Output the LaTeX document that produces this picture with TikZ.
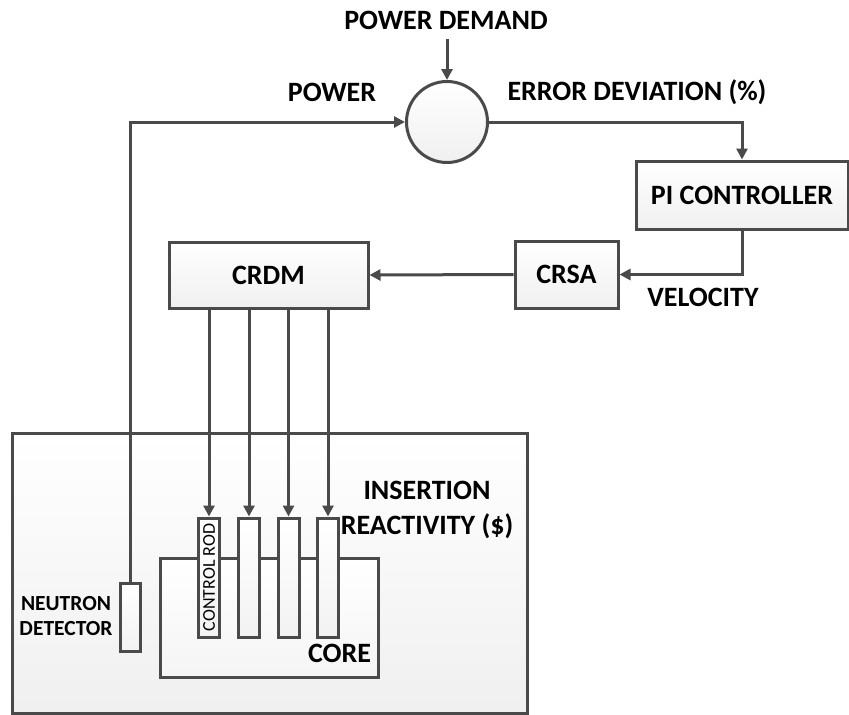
\documentclass[tikz,border=0pt]{standalone}
\usepackage{fontspec}
\setmainfont{Carlito}
\usetikzlibrary{arrows.meta}
\definecolor{edge}{HTML}{4A4A4A}

\begin{document}
\begin{tikzpicture}[x=1pt, y=-1pt,
  line width=3pt, draw=edge,
  >={Triangle[length=11pt,width=11pt]},
  blk/.style = {draw=edge, line width=3pt, rectangle, top color=white, bottom color=gray!12, inner sep=0pt, font=\bfseries\fontsize{28}{32}\selectfont},
  rod/.style = {draw=edge, line width=3pt, rectangle, top color=white, bottom color=gray!10, minimum width=21pt, minimum height=119pt, inner sep=0pt},
  lbl/.style = {font=\bfseries\fontsize{28}{35}\selectfont, inner sep=0pt, align=center}]
\useasboundingbox (0,0) rectangle (849,715);
% reactor vessel and core
\node[blk, minimum width=515pt, minimum height=280pt] (vessel) at (269.5,573) {};
\node[blk, minimum width=218pt, minimum height=119pt, bottom color=gray!8] (core) at (269,617.5) {};
\node[rod] (r1) at (209,577.5) {};
\node[rod] (r2) at (249,577.5) {};
\node[rod] (r3) at (288.5,577.5) {};
\node[rod] (r4) at (328,577.5) {};
\node[rotate=90, font=\fontsize{18}{20}\selectfont, inner sep=0pt] (crtext) at (r1) {CONTROL ROD};
\node[rod, minimum width=20pt, minimum height=68pt] (det) at (130,617) {};
% blocks
\node[draw=edge, line width=3pt, circle, minimum size=81pt, top color=white, bottom color=gray!12, inner sep=0pt] (sum) at (447,122) {};
\node[blk, minimum width=212pt, minimum height=68pt] (pi) at (742,195) {PI CONTROLLER};
\node[blk, minimum width=103pt, minimum height=67pt] (crsa) at (566.5,274.5) {CRSA};
\node[blk, minimum width=199pt, minimum height=66pt] (crdm) at (268.5,275) {CRDM};
% labels
\node[lbl] (pd) at (446,20) {POWER DEMAND};
\node[lbl] (pw) at (332,92) {POWER};
\node[lbl, anchor=west] (err) at (506,92) {ERROR DEVIATION (\%)};
\node[lbl] (vel) at (703,297) {VELOCITY};
\node[lbl] (ins) at (427,509.5) {INSERTION\\REACTIVITY (\$)};
\node[lbl, font=\bfseries\fontsize{21.5}{25}\selectfont] (nd) at (66,616.5) {NEUTRON\\DETECTOR};
\node[lbl] (cr) at (339.5,653) {CORE};
\coordinate (pdtip) at (447,39);
% connectors
\draw[->] (pdtip) -- (sum.north);
\draw[->] (sum.east) -| (pi.north);
\draw[->] (pi.south) |- (crsa.east);
\draw[->] (crsa.west) -- (crdm.east);
\draw[->] (det.north) |- (sum.west);
\draw[->] (crdm.south -| r1.north) -- (r1.north);
\draw[->] (crdm.south -| r2.north) -- (r2.north);
\draw[->] (crdm.south -| r3.north) -- (r3.north);
\draw[->] (crdm.south -| r4.north) -- (r4.north);
\end{tikzpicture}
\end{document}
